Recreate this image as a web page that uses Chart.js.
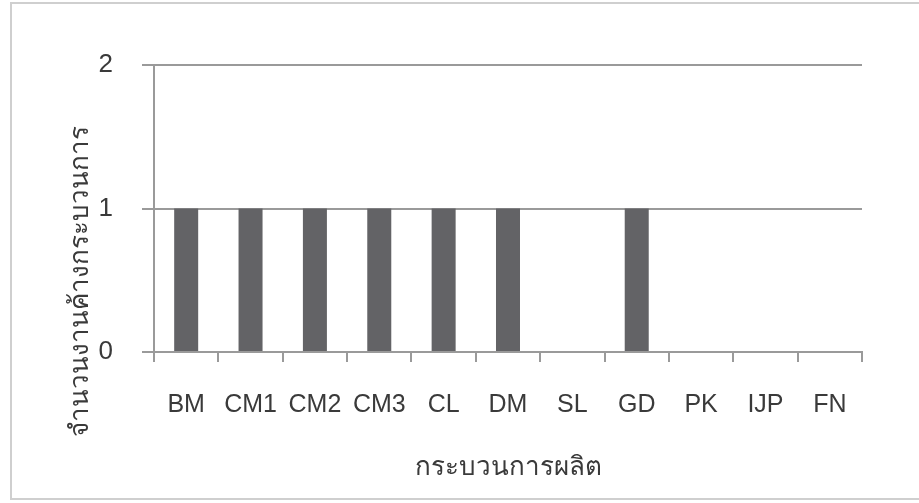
<!DOCTYPE html>
<html>
<head>
<meta charset="utf-8">
<script src="https://cdn.jsdelivr.net/npm/chart.js@4/dist/chart.umd.min.js"></script>
<style>
  html, body { margin: 0; padding: 0; background: #ffffff; }
  #wrap { position: relative; width: 919px; height: 503px; }
</style>
</head>
<body>
<div id="wrap"><canvas id="chart" width="919" height="503"></canvas></div>
<script>
// Work-in-process count per production step
const categories = ['BM', 'CM1', 'CM2', 'CM3', 'CL', 'DM', 'SL', 'GD', 'PK', 'IJP', 'FN'];
const pendingJobs = [1, 1, 1, 1, 1, 1, 0, 1, 0, 0, 0];
const yTicks = [0, 1, 2];

const xTitle = 'กระบวนการผลิต';
const yTitle = 'จำนวนงานค้างกระบวนการ';

const axisGray = '#9a9a9a';
const textColor = '#3a3a3a';
const baseFont = "'Liberation Sans', Arial, sans-serif";

// frame around the chart and the rotated y-axis title
const decorations = {
  id: 'decorations',
  beforeDraw(chart) {
    const ctx = chart.ctx;
    ctx.save();
    ctx.fillStyle = '#ffffff';
    ctx.fillRect(0, 0, chart.width, chart.height);
    ctx.strokeStyle = '#cfcfcf';
    ctx.lineWidth = 2;
    ctx.strokeRect(11, 3, 930, 496);
    ctx.restore();
  },
  afterDraw(chart) {
    const ctx = chart.ctx;
    ctx.save();
    ctx.translate(81, 281);
    ctx.rotate(-Math.PI / 2);
    ctx.fillStyle = textColor;
    ctx.font = "26px " + baseFont;
    ctx.textAlign = 'center';
    ctx.textBaseline = 'middle';
    ctx.fillText(yTitle, 0, 0);
    ctx.restore();
  }
};

new Chart(document.getElementById('chart'), {
  type: 'bar',
  data: {
    labels: categories,
    datasets: [{
      data: pendingJobs,
      backgroundColor: '#636366',
      borderWidth: 0,
      categoryPercentage: 1.0,
      barPercentage: 0.373
    }]
  },
  options: {
    responsive: false,
    animation: false,
    devicePixelRatio: 1,
    layout: { padding: { left: 11, top: 65, right: 57, bottom: 8 } },
    plugins: {
      legend: { display: false },
      tooltip: { enabled: false }
    },
    scales: {
      x: {
        afterFit(scale) { scale.height = 143; },
        grid: {
          drawOnChartArea: false,
          drawTicks: true,
          tickLength: 10,
          color: axisGray,
          lineWidth: 2
        },
        border: { display: true, color: axisGray, width: 2 },
        ticks: {
          color: textColor,
          font: { family: baseFont, size: 25 },
          padding: 28,
          maxRotation: 0,
          autoSkip: false
        },
        title: {
          display: true,
          text: xTitle,
          color: textColor,
          font: { family: baseFont, size: 26 },
          padding: { top: 0, bottom: 12 }
        }
      },
      y: {
        min: 0,
        max: 2,
        afterFit(scale) { scale.width = 143; },
        afterBuildTicks(scale) { scale.ticks = yTicks.map(v => ({ value: v })); },
        grid: {
          drawTicks: true,
          tickLength: 12,
          color: axisGray,
          lineWidth: 2
        },
        border: { display: true, color: axisGray, width: 2 },
        ticks: {
          color: textColor,
          font: { family: baseFont, size: 26 },
          padding: 29
        }
      }
    }
  },
  plugins: [decorations]
});
</script>
</body>
</html>
